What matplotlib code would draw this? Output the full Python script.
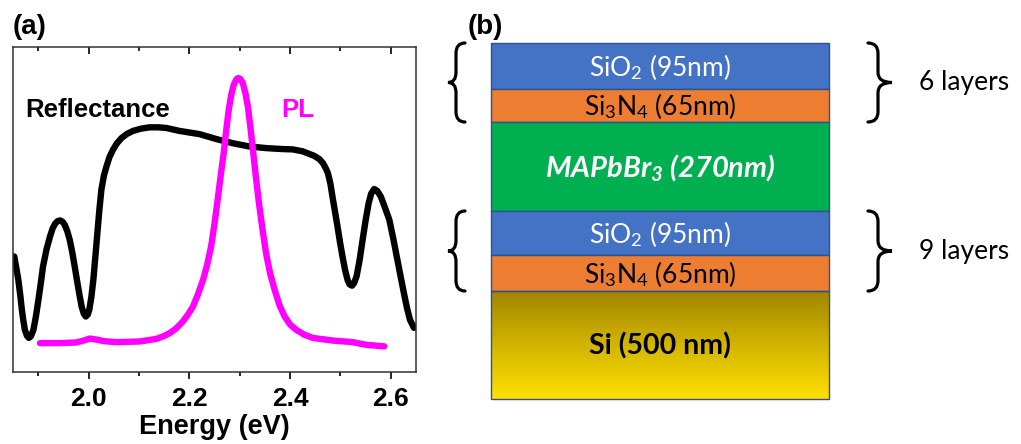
import numpy as np
import matplotlib.pyplot as plt
from matplotlib.path import Path
from matplotlib.patches import PathPatch, Rectangle
from matplotlib.colors import LinearSegmentedColormap

plt.rcParams['font.family'] = 'Liberation Sans'
plt.rcParams['mathtext.fontset'] = 'custom'
plt.rcParams['mathtext.rm'] = 'Lato'
plt.rcParams['mathtext.it'] = 'Lato:italic'
plt.rcParams['mathtext.bf'] = 'Lato:bold'
plt.rcParams['mathtext.bfit'] = 'Lato:bold:italic'

# reflectance spectrum
refl_energy = [1.852, 1.856, 1.860, 1.864, 1.867, 1.870, 1.873, 1.877, 1.881, 1.885,
               1.890, 1.895, 1.900, 1.905, 1.909, 1.916, 1.923, 1.928, 1.933, 1.938,
               1.943, 1.948, 1.952, 1.957, 1.962, 1.967, 1.972, 1.977, 1.982, 1.986,
               1.990, 1.994, 1.998, 2.001, 2.005, 2.009, 2.013, 2.017, 2.021, 2.025,
               2.030, 2.035, 2.041, 2.048, 2.056, 2.065, 2.076, 2.088, 2.104, 2.121,
               2.138, 2.154, 2.180, 2.220, 2.253, 2.286, 2.319, 2.352, 2.385, 2.405,
               2.425, 2.448, 2.458, 2.465, 2.470, 2.475, 2.480, 2.484, 2.489, 2.494,
               2.499, 2.504, 2.509, 2.514, 2.518, 2.523, 2.527, 2.532, 2.538, 2.544,
               2.550, 2.556, 2.561, 2.567, 2.573, 2.580, 2.588, 2.597, 2.605, 2.613,
               2.620, 2.626, 2.632, 2.638, 2.646]
refl_value = [0.356, 0.320, 0.284, 0.235, 0.192, 0.158, 0.130, 0.112, 0.105, 0.110,
              0.130, 0.172, 0.223, 0.278, 0.325, 0.378, 0.418, 0.442, 0.457, 0.465,
              0.467, 0.463, 0.454, 0.435, 0.408, 0.370, 0.325, 0.278, 0.233, 0.200,
              0.180, 0.171, 0.177, 0.192, 0.230, 0.284, 0.355, 0.428, 0.500, 0.562,
              0.605, 0.633, 0.662, 0.685, 0.705, 0.721, 0.734, 0.743, 0.750, 0.754,
              0.754, 0.752, 0.743, 0.733, 0.718, 0.705, 0.695, 0.690, 0.687, 0.686,
              0.680, 0.666, 0.656, 0.644, 0.630, 0.613, 0.580, 0.541, 0.495, 0.449,
              0.400, 0.356, 0.315, 0.284, 0.270, 0.266, 0.274, 0.295, 0.345, 0.408,
              0.468, 0.521, 0.550, 0.564, 0.558, 0.541, 0.508, 0.469, 0.410, 0.346,
              0.290, 0.243, 0.198, 0.161, 0.136]

# PL spectrum
pl_energy = [1.903, 1.943, 1.975, 1.990, 2.002, 2.015, 2.030, 2.055, 2.101, 2.134,
             2.148, 2.161, 2.174, 2.187, 2.197, 2.207, 2.217, 2.227, 2.235, 2.243,
             2.250, 2.256, 2.262, 2.268, 2.273, 2.278, 2.283, 2.288, 2.293, 2.297,
             2.301, 2.306, 2.311, 2.316, 2.321, 2.326, 2.332, 2.338, 2.345, 2.352,
             2.360, 2.369, 2.379, 2.389, 2.400, 2.412, 2.428, 2.445, 2.484, 2.524,
             2.550, 2.587]
pl_value = [0.089, 0.089, 0.091, 0.097, 0.103, 0.100, 0.095, 0.092, 0.094, 0.102,
            0.110, 0.120, 0.135, 0.156, 0.177, 0.202, 0.240, 0.284, 0.330, 0.387,
            0.460, 0.531, 0.605, 0.675, 0.745, 0.808, 0.855, 0.885, 0.902, 0.906,
            0.903, 0.890, 0.860, 0.818, 0.755, 0.685, 0.600, 0.521, 0.440, 0.367,
            0.305, 0.254, 0.205, 0.171, 0.146, 0.130, 0.115, 0.105, 0.097, 0.092,
            0.084, 0.079]

# layer stack for panel (b), top to bottom
layer_labels = [r"SiO$_2$ (95nm)", r"Si$_3$N$_4$ (65nm)", r"MAPbBr$_{\mathbfit{3}}$ (270nm)",
                r"SiO$_2$ (95nm)", r"Si$_3$N$_4$ (65nm)", "Si (500 nm)"]
layer_heights = [46, 33, 89, 44, 36, 108]   # drawn heights in px
layer_colors = ['#4472C4', '#ED7D31', '#00B050', '#4472C4', '#ED7D31', None]
text_colors = ['white', 'black', 'white', 'white', 'black', 'black']
group_labels = ['6 layers', '9 layers']
group_layers = [(0, 1), (3, 4)]

fig = plt.figure(figsize=(10.21, 4.44), dpi=100)

# ---- panel (a) ----
ax = fig.add_axes([13.3/1021, 72/444, 402.7/1021, 324.5/444])
ax.plot(refl_energy, refl_value, color='black', lw=4.6, solid_capstyle='round', solid_joinstyle='round')
ax.plot(pl_energy, pl_value, color='#FF00FF', lw=4.6, solid_capstyle='round', solid_joinstyle='round')
ax.set_xlim(1.85, 2.65)
ax.set_ylim(0, 1)
ax.set_yticks([])
ax.set_xticks([2.0, 2.2, 2.4, 2.6])
ax.set_xticks([1.9, 2.1, 2.3, 2.5], minor=True)
ax.tick_params(axis='x', which='major', direction='out', length=5, width=1.2, labelsize=19, pad=6)
ax.tick_params(axis='x', which='minor', direction='out', length=3, width=1.2)
for lab in ax.get_xticklabels():
    lab.set_fontweight('bold')
for s in ax.spines.values():
    s.set_linewidth(1.1)
    s.set_color('#333333')
top = ax.secondary_xaxis('top')
top.set_xticks([2.0, 2.2, 2.4, 2.6], labels=[])
top.set_xticks([1.9, 2.1, 2.3, 2.5], minor=True)
top.tick_params(which='major', direction='in', length=5, width=1.2)
top.tick_params(which='minor', direction='in', length=3, width=1.2)
top.spines['top'].set_visible(False)
ax.set_xlabel('Energy (eV)', fontsize=19.5, fontweight='bold', labelpad=2)
ax.text(1.873, 0.787, 'Reflectance', fontsize=18.5, fontweight='bold', color='black')
ax.text(2.382, 0.787, 'PL', fontsize=18.5, fontweight='bold', color='#FF00FF')
fig.text(13/1021, 1 - 34/444, '(a)', fontsize=20, fontweight='bold')
fig.text(468/1021, 1 - 34/444, '(b)', fontsize=20, fontweight='bold')

# ---- panel (b) ----
bx = fig.add_axes([440/1021, 0, 581/1021, 1])
bx.set_xlim(440, 1021)
bx.set_ylim(444, 0)
bx.axis('off')

x0, x1 = 491, 829
tops = 43 + np.concatenate([[0], np.cumsum(layer_heights)[:-1]])
gold = LinearSegmentedColormap.from_list('gold', ['#A08600', '#D2B400', '#FFE000'])
for i, lab in enumerate(layer_labels):
    y0 = tops[i]
    h = layer_heights[i]
    if layer_colors[i] is None:
        grad = np.linspace(0, 1, 100).reshape(-1, 1)
        bx.imshow(grad, cmap=gold, extent=[x0, x1, y0 + h, y0], aspect='auto', zorder=1)
        bx.add_patch(Rectangle((x0, y0), x1 - x0, h, fc='none', ec='#2F528F', lw=1.0, zorder=2))
    else:
        bx.add_patch(Rectangle((x0, y0), x1 - x0, h, fc=layer_colors[i], ec='#2F528F', lw=1.0, zorder=2))
    if i == 2:
        kw = dict(fontweight='bold', style='italic', fontsize=21)
    elif i == 5:
        kw = dict(fontweight='bold', fontsize=20.5)
    else:
        kw = dict(fontsize=19)
    bx.text((x0 + x1) / 2, y0 + h / 2 + 1, lab, ha='center', va='center', color=text_colors[i],
            family='Lato', zorder=3, **kw)


def brace(x_hook, x_body, x_tip, y0, y1):
    ym = (y0 + y1) / 2
    r = 0.13 * (y1 - y0)
    verts = [(x_hook, y0), (x_body, y0), (x_body, y0 + r), (x_body, ym - r),
             (x_body, ym), (x_tip, ym), (x_body, ym), (x_body, ym + r),
             (x_body, y1 - r), (x_body, y1), (x_hook, y1)]
    codes = [Path.MOVETO, Path.CURVE3, Path.CURVE3, Path.LINETO,
             Path.CURVE3, Path.CURVE3, Path.CURVE3, Path.CURVE3,
             Path.LINETO, Path.CURVE3, Path.CURVE3]
    bx.add_patch(PathPatch(Path(verts, codes), fc='none', ec='black', lw=2.3, capstyle='round'))


for (a, b), glab in zip(group_layers, group_labels):
    ya = tops[a]
    yb = tops[b] + layer_heights[b]
    brace(465, 456, 448, ya, yb)
    brace(868, 878, 892, ya, yb)
    bx.text(919, (ya + yb) / 2, glab, ha='left', va='center', fontsize=19, family='Lato')

fig.savefig('out.png', dpi=100)
